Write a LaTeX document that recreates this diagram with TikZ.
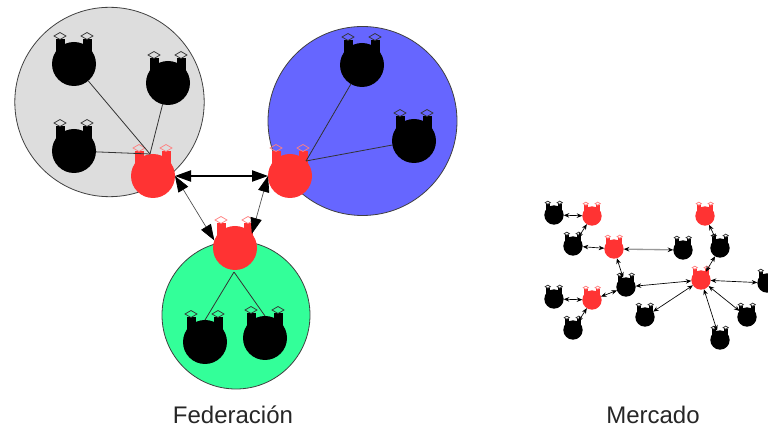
\documentclass[tikz,border=0pt]{standalone}
\usepackage{fontspec}
\setmainfont{Liberation Sans}
\usetikzlibrary{arrows.meta}
\definecolor{grisGrupo}{HTML}{DDDDDD}
\definecolor{azulGrupo}{HTML}{6666FF}
\definecolor{verdeGrupo}{HTML}{33FF99}
\definecolor{rojoPeer}{HTML}{FF3333}
\definecolor{rojoOreja}{HTML}{FF8080}
\definecolor{negroOreja}{HTML}{333333}
\newcommand{\peer}[5]{
    \begin{scope}[shift={(#2)},scale=#5]
        \fill[#3] (-18.5,-24.5) rectangle (-9.5,-8);
        \fill[#3] (8.5,-24.5) rectangle (17.5,-8);
        \draw[oreja,draw=#4] (-14,-31.5) -- (-8,-28) -- (-14,-24.5) -- (-20,-28) -- cycle;
        \draw[oreja,draw=#4] (13,-31.5) -- (19,-28) -- (13,-24.5) -- (7,-28) -- cycle;
        \node[peerbody,fill=#3,minimum size=#5*33pt] (#1) at (0,0) {};
    \end{scope}
}
\begin{document}
\begin{tikzpicture}[x=0.75pt,y=-0.75pt,
                    grupo/.style={draw=black!75,line width=0.6pt},
                    peerbody/.style={circle,inner sep=0pt,outer sep=0pt},
                    oreja/.style={line width=0.55pt},
                    enlace/.style={draw=black!80,line width=0.6pt},
                    granflecha/.style={{Triangle[length=12pt,width=8.5pt,black]}-{Triangle[length=12pt,width=8.5pt,black]}},
                    flecha/.style={{Stealth[length=4.2pt,width=3.4pt,black]}-{Stealth[length=4.2pt,width=3.4pt,black]},line width=0.5pt},
                    titulo/.style={font=\fontsize{18}{20}\selectfont,text=black!85}]
    \useasboundingbox (0,0) rectangle (768,427);

    \draw[grupo,fill=grisGrupo] (109.5,102) circle (94.7);
    \draw[grupo,fill=azulGrupo] (362.5,121) circle (94.5);
    \draw[grupo,fill=verdeGrupo] (236,315) circle (74);

    \coordinate (hubGris) at (150,154);
    \coordinate (hubAzul) at (306,161);
    \coordinate (hubVerde) at (234,272);

    \peer{gris1}{74,64}{black}{negroOreja}{1}
    \peer{gris2}{168,83}{black}{negroOreja}{1}
    \peer{gris3}{74,151}{black}{negroOreja}{1}
    \peer{rojoGris}{153,176}{rojoPeer}{rojoOreja}{1}
    \peer{azul1}{362,65}{black}{negroOreja}{1}
    \peer{azul2}{414,141}{black}{negroOreja}{1}
    \peer{rojoAzul}{290,176}{rojoPeer}{rojoOreja}{1}
    \peer{verde1}{205,342}{black}{negroOreja}{1}
    \peer{verde2}{265,338}{black}{negroOreja}{1}
    \peer{rojoVerde}{235,248}{rojoPeer}{rojoOreja}{1}

    \draw[enlace] (hubGris) -- (gris1);
    \draw[enlace] (hubGris) -- (gris2);
    \draw[enlace] (hubGris) -- (gris3);
    \draw[enlace] (hubAzul) -- (azul1);
    \draw[enlace] (hubAzul) -- (azul2);
    \draw[enlace] (hubVerde) -- (verde1.north);
    \draw[enlace] (hubVerde) -- (verde2.north);

    \draw[granflecha,line width=0.8pt] (rojoGris.east) -- (rojoAzul.west);
    \draw[granflecha,line width=0.5pt,black!70] (rojoGris.east) -- (rojoVerde.160);
    \draw[granflecha,line width=0.5pt,black!70] (rojoAzul.west) -- (rojoVerde.40);

    \peer{m1}{554,215}{black}{negroOreja}{0.44}
    \peer{m2}{573,246}{black}{negroOreja}{0.44}
    \peer{m3}{683,250}{black}{negroOreja}{0.44}
    \peer{m4}{720,248}{black}{negroOreja}{0.44}
    \peer{m5}{626,287}{black}{negroOreja}{0.44}
    \peer{m6}{554,299}{black}{negroOreja}{0.44}
    \peer{m7}{573,330}{black}{negroOreja}{0.44}
    \peer{m8}{645,317}{black}{negroOreja}{0.44}
    \peer{m9}{747,317}{black}{negroOreja}{0.44}
    \peer{m10}{720,340}{black}{negroOreja}{0.44}
    \peer{m11}{767,283}{black}{negroOreja}{0.44}
    \peer{r1}{592,216}{rojoPeer}{rojoOreja}{0.44}
    \peer{r2}{614,249}{rojoPeer}{rojoOreja}{0.44}
    \peer{r3}{705,216}{rojoPeer}{rojoOreja}{0.44}
    \peer{r4}{701,280}{rojoPeer}{rojoOreja}{0.44}
    \peer{r5}{592,300}{rojoPeer}{rojoOreja}{0.44}

    \draw[flecha] (m1) -- (r1);
    \draw[flecha] (r1) -- (m2);
    \draw[flecha] (m2) -- (r2);
    \draw[flecha,draw=black!40,line width=1pt] (r2) -- (m3);
    \draw[flecha] (r2) -- (m5);
    \draw[flecha] (m5) -- (r5);
    \draw[flecha] (m5) -- (r4);
    \draw[flecha] (m6) -- (r5);
    \draw[flecha] (r5) -- (m7);
    \draw[flecha] (r3) -- (m4);
    \draw[flecha] (m4) -- (r4);
    \draw[flecha] (r4) -- (m11);
    \draw[flecha] (r4) -- (m8);
    \draw[flecha] (r4) -- (m9);
    \draw[flecha] (r4) -- (m10);

    \node[titulo] (federacion) at (233,415) {Federación};
    \node[titulo] (mercado) at (653,415) {Mercado};
\end{tikzpicture}
\end{document}
